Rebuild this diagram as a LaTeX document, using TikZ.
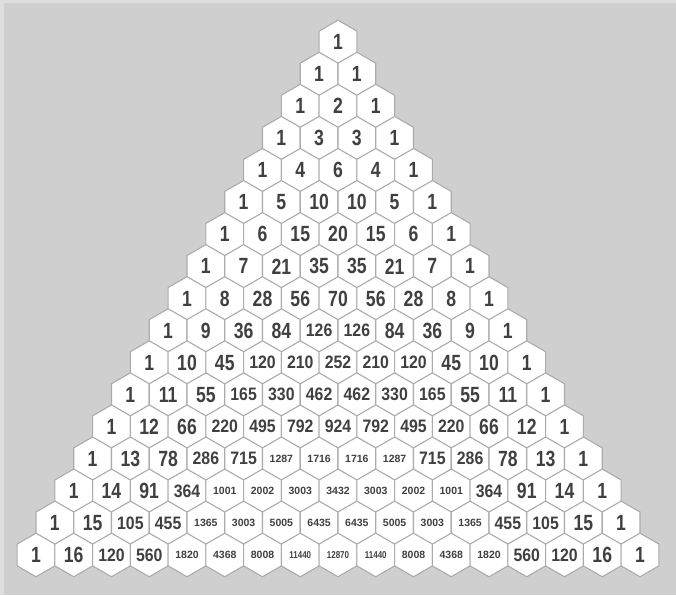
\documentclass[tikz,border=0pt]{standalone}
\usepackage{fontspec}
\usetikzlibrary{shapes.geometric}
\newfontfamily\numcond{Liberation Sans}[FakeStretch=0.8]
\newfontfamily\nummid{Liberation Sans}[FakeStretch=0.88]
\newfontfamily\numnorm{Liberation Sans}
\definecolor{bgcol}{HTML}{CFCFCF}
\definecolor{edgecol}{HTML}{DEDEDE}
\definecolor{hexline}{HTML}{ABABAB}
\definecolor{numcol}{HTML}{404040}
\newcommand\pasnum[1]{%
  \ifnum#1<100 {\numcond\bfseries\fontsize{22}{22}\selectfont #1}%
  \else\ifnum#1<1000 {\nummid\bfseries\fontsize{18}{18}\selectfont #1}%
  \else\ifnum#1<10000 {\numnorm\bfseries\fontsize{10.5}{10.5}\selectfont #1}%
  \else {\numcond\bfseries\fontsize{10}{10}\selectfont #1}\fi\fi\fi}
\tikzset{
  hexcell/.style={regular polygon, regular polygon sides=6, shape border rotate=30,
    minimum size=43.6pt, inner sep=0pt, outer sep=0pt, fill=white,
    draw=hexline, line width=1.1pt, text=numcol}
}
\begin{document}
\begin{tikzpicture}[x=1pt,y=-1pt]
\useasboundingbox (0,0) rectangle (676,595);
\fill[bgcol] (0,0) rectangle (676,595);
\fill[edgecol] (0,0) rectangle (4,595);
\fill[edgecol] (0,0) rectangle (676,3);
\foreach \n in {0,...,16}{
  \xdef\cval{1}
  \foreach \k in {0,...,\n}{
    \node[hexcell] (h-\n-\k) at ({338+(\k-\n/2)*37.75},{42+\n*32.06}) {\pasnum{\cval}};
    \xdef\cval{\the\numexpr \cval*(\n-\k)/(\k+1)\relax}
  }
}
\end{tikzpicture}
\end{document}
